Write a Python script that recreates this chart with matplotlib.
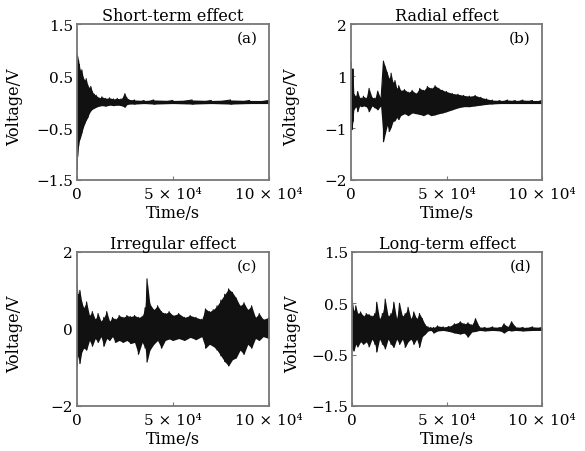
import matplotlib
matplotlib.use('Agg')
import matplotlib.pyplot as plt
import numpy as np

# time axis in units of 10^4 s; values are upper/lower envelope of each record (V)
ta = [0, 0.03, 0.08, 0.12, 0.18, 0.25, 0.32, 0.4, 0.48, 0.56, 0.64, 0.72, 0.8, 0.9, 1.0, 1.15, 1.3,
      1.5, 1.7, 1.9, 2.1, 2.3, 2.5, 2.6, 2.7, 3.0, 3.5, 4.0, 5.0, 6.0, 7.0, 8.0, 9.0, 10.0]
upper_a = [0.92, 0.88, 0.8, 0.72, 0.6, 0.62, 0.48, 0.42, 0.45, 0.33, 0.27, 0.3, 0.2, 0.15, 0.13, 0.08, 0.1,
           0.07, 0.08, 0.06, 0.07, 0.06, 0.16, 0.08, 0.05, 0.04, 0.03, 0.04, 0.03, 0.04, 0.03, 0.04, 0.03, 0.03]
lower_a = [-1.3, -1.05, -0.85, -0.75, -0.69, -0.6, -0.5, -0.42, -0.35, -0.3, -0.22, -0.17, -0.14, -0.12, -0.1, -0.08, -0.07,
           -0.08, -0.06, -0.07, -0.06, -0.07, -0.1, -0.05, -0.04, -0.04, -0.03, -0.04, -0.03, -0.04, -0.03, -0.04, -0.03, -0.03]

tb = [0, 0.05, 0.1, 0.15, 0.25, 0.35, 0.45, 0.55, 0.65, 0.8, 0.95, 1.1, 1.25, 1.4, 1.55, 1.7, 1.8,
      1.9, 2.0, 2.1, 2.2, 2.3, 2.4, 2.5, 2.6, 2.8, 3.0, 3.2, 3.4, 3.6, 3.8, 4.0, 4.2, 4.4, 4.6, 4.8,
      5.0, 5.3, 5.6, 5.9, 6.2, 6.5, 6.8, 7.1, 7.4, 7.8, 8.2, 8.6, 9.0, 9.5, 10]
upper_b = [1.02, 0.6, 0.85, 0.2, 0.15, 0.27, 0.12, 0.1, 0.15, 0.1, 0.35, 0.12, 0.1, 0.28, 0.1, 1.05, 0.9,
           0.75, 0.6, 0.74, 0.5, 0.55, 0.35, 0.42, 0.3, 0.32, 0.25, 0.3, 0.22, 0.35, 0.3, 0.4, 0.35, 0.42, 0.35, 0.3,
           0.27, 0.22, 0.2, 0.17, 0.15, 0.17, 0.12, 0.08, 0.05, 0.04, 0.05, 0.04, 0.05, 0.04, 0.04]
lower_b = [-0.4, -0.71, -0.5, -0.2, -0.12, -0.25, -0.1, -0.12, -0.1, -0.12, -0.25, -0.1, -0.15, -0.2, -0.1, -1.02, -0.8,
           -0.6, -0.76, -0.65, -0.5, -0.48, -0.4, -0.45, -0.35, -0.3, -0.35, -0.28, -0.3, -0.32, -0.35, -0.3, -0.35, -0.33, -0.3, -0.28,
           -0.25, -0.2, -0.15, -0.12, -0.12, -0.1, -0.08, -0.06, -0.05, -0.04, -0.04, -0.04, -0.04, -0.04, -0.04]

tc = [0, 0.05, 0.15, 0.25, 0.35, 0.5, 0.65, 0.8, 0.95, 1.1, 1.25, 1.4, 1.55, 1.7, 1.85, 2.0, 2.2, 2.4,
      2.6, 2.8, 3.0, 3.2, 3.4, 3.55, 3.65, 3.8, 4.0, 4.2, 4.4, 4.6, 4.8, 5.0, 5.3, 5.6, 5.9, 6.2, 6.5,
      6.7, 6.9, 7.1, 7.3, 7.5, 7.7, 7.9, 8.1, 8.3, 8.5, 8.7, 8.9, 9.1, 9.3, 9.5, 9.7, 10]
upper_c = [1.22, 0.9, 1.0, 0.7, 0.55, 0.7, 0.35, 0.45, 0.25, 0.4, 0.2, 0.3, 0.45, 0.2, 0.3, 0.25, 0.35, 0.3,
           0.35, 0.32, 0.35, 0.3, 0.33, 0.55, 1.3, 0.65, 0.5, 0.6, 0.45, 0.4, 0.45, 0.35, 0.4, 0.3, 0.35, 0.3, 0.25,
           0.52, 0.45, 0.5, 0.6, 0.75, 0.9, 1.04, 0.95, 0.8, 0.6, 0.68, 0.5, 0.6, 0.3, 0.4, 0.25, 0.3]
lower_c = [-0.96, -0.7, -0.9, -0.6, -0.5, -0.55, -0.3, -0.45, -0.25, -0.35, -0.2, -0.45, -0.25, -0.3, -0.2, -0.35, -0.3, -0.35,
           -0.3, -0.38, -0.35, -0.66, -0.35, -0.5, -0.86, -0.55, -0.4, -0.3, -0.5, -0.3, -0.26, -0.3, -0.25, -0.3, -0.22, -0.28, -0.2,
           -0.5, -0.4, -0.45, -0.55, -0.7, -0.85, -0.96, -0.8, -0.75, -0.55, -0.66, -0.4, -0.5, -0.25, -0.3, -0.2, -0.25]

td = [0, 0.1, 0.2, 0.3, 0.45, 0.6, 0.75, 0.9, 1.05, 1.2, 1.3, 1.45, 1.6, 1.75, 1.9, 2.05, 2.2,
      2.35, 2.5, 2.65, 2.8, 2.95, 3.1, 3.25, 3.4, 3.55, 3.7, 3.85, 4.0, 4.15, 4.3, 4.5, 4.8, 5.1,
      5.4, 5.7, 5.9, 6.1, 6.3, 6.5, 6.7, 7.0, 7.4, 7.8, 8.0, 8.2, 8.4, 8.6, 9.0, 9.5, 10]
upper_d = [0.58, 0.35, 0.45, 0.3, 0.33, 0.25, 0.3, 0.28, 0.25, 0.3, 0.52, 0.2, 0.3, 0.58, 0.25, 0.3, 0.52,
           0.2, 0.5, 0.25, 0.3, 0.42, 0.2, 0.33, 0.2, 0.3, 0.2, 0.08, 0.04, 0.03, 0.03, 0.06, 0.04, 0.05,
           0.1, 0.14, 0.1, 0.12, 0.08, 0.2, 0.04, 0.03, 0.04, 0.03, 0.1, 0.04, 0.14, 0.04, 0.03, 0.04, 0.03]
lower_d = [-0.39, -0.43, -0.3, -0.35, -0.25, -0.3, -0.25, -0.35, -0.2, -0.3, -0.45, -0.2, -0.3, -0.39, -0.2, -0.3, -0.36,
           -0.2, -0.3, -0.2, -0.36, -0.25, -0.2, -0.3, -0.2, -0.36, -0.15, -0.1, -0.04, -0.03, -0.08, -0.04, -0.03, -0.05,
           -0.08, -0.1, -0.08, -0.16, -0.06, -0.05, -0.03, -0.04, -0.03, -0.04, -0.08, -0.03, -0.04, -0.03, -0.04, -0.03, -0.03]

titles = ['Short-term effect', 'Radial effect', 'Irregular effect', 'Long-term effect']
tags = ['(a)', '(b)', '(c)', '(d)']
xticks = [0, 5, 10]
xticklabels = ['0', '5 \u00d7 10\u2074', '10 \u00d7 10\u2074']
ylims = [(-1.5, 1.5), (-2, 2), (-2, 2), (-1.5, 1.5)]
yticks = [[-1.5, -0.5, 0.5, 1.5], [-2, -2 / 3, 2 / 3, 2], [-2, 0, 2], [-1.5, -0.5, 0.5, 1.5]]
yticklabels = [['\u22121.5', '\u22120.5', '0.5', '1.5'], ['\u22122', '\u22121', '1', '2'],
               ['\u22122', '0', '2'], ['\u22121.5', '\u22120.5', '0.5', '1.5']]

plt.rcParams['font.family'] = ['DejaVu Serif']
plt.rcParams['font.size'] = 11

fig = plt.figure(figsize=(5.85, 4.52), dpi=100)
boxes = [[0.1316, 0.5996, 0.328, 0.345], [0.600, 0.5996, 0.3265, 0.345],
         [0.1316, 0.0996, 0.328, 0.341], [0.6017, 0.0996, 0.325, 0.341]]
series = [(ta, upper_a, lower_a), (tb, upper_b, lower_b), (tc, upper_c, lower_c), (td, upper_d, lower_d)]

for i, (t, up, lo) in enumerate(series):
    ax = fig.add_axes(boxes[i])
    t = np.asarray(t)
    up = np.asarray(up)
    lo = np.asarray(lo)
    ax.fill_between(t, lo, up, color='#111111', lw=0)
    # jagged trace through the envelope points
    xs = np.repeat(t, 2)
    ys = np.column_stack([up, lo]).ravel()
    ax.plot(xs, ys, color='#111111', lw=0.8)

    ax.set_xlim(0, 10)
    ax.set_ylim(*ylims[i])
    ax.set_xticks(xticks)
    ax.set_xticklabels(xticklabels)
    ax.set_yticks(yticks[i])
    ax.set_yticklabels(yticklabels[i])
    ax.tick_params(direction='in', length=3, width=0.8, color='#777777', labelsize=11)
    ax.tick_params(axis='x', pad=5)
    ax.tick_params(axis='y', pad=3)
    for s in ax.spines.values():
        s.set_color('#777777')
        s.set_linewidth(1.3)

    ax.set_title(titles[i], fontsize=11.5, pad=3)
    ax.text(0.885, 0.91, tags[i], transform=ax.transAxes, ha='center', va='center', fontsize=11)
    ax.set_xlabel('Time/s', fontsize=11.5)
    ax.set_ylabel('Voltage/V', fontsize=11.5)
    ax.xaxis.set_label_coords(0.5, -0.155)
    ax.yaxis.set_label_coords(-0.28 if i % 2 == 0 else -0.265, 0.47)

fig.savefig('out.png', dpi=100)
